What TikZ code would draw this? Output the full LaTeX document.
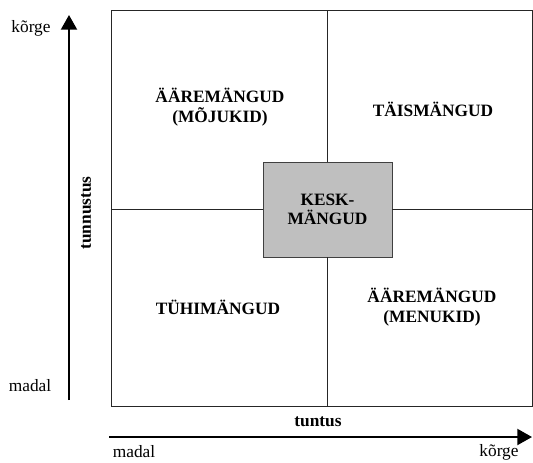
\documentclass[tikz,border=0pt]{standalone}
\usepackage{fontspec}
\setmainfont{Liberation Serif}
\usetikzlibrary{arrows.meta,positioning}

\begin{document}
\begin{tikzpicture}[x=0.75pt,y=-0.75pt,line join=miter,>={Triangle[length=11pt,width=12pt]},
    field/.style={font=\fontsize{13}{14.5}\selectfont\bfseries, align=center},
    axislabel/.style={font=\fontsize{13}{15}\selectfont}]
    \useasboundingbox (0,0) rectangle (533,462);

    % a maatriks: suur raam ja keskmine kast
    \node[draw=black!85, line width=0.6pt, minimum width=315.75pt, minimum height=297pt, inner sep=0pt] (frame) at (321.5,208) {};
    \node[draw=black!75, fill=black!25, line width=0.6pt, minimum width=96.75pt, minimum height=71.25pt, field] (kesk) at (327.5,209.5) {KESK-\\M\"ANGUD};

    % jaotusjooned
    \draw[black!85, line width=0.5pt] (kesk.north) -- (kesk.north |- frame.north);
    \draw[black!85, line width=0.5pt] (kesk.south) -- (kesk.south |- frame.south);
    \draw[black!85, line width=0.5pt] (kesk.west) -- (kesk.west -| frame.west);
    \draw[black!85, line width=0.5pt] (kesk.east) -- (kesk.east -| frame.east);

    % veerandite nimed
    \node[field] (moju) at (220,107) {\"A\"AREM\"ANGUD\\(M\~OJUKID)};
    \node[field] (tais) at (433,109) {T\"AISM\"ANGUD};
    \node[field] (tuhi) at (218,307) {T\"UHIM\"ANGUD};
    \node[field] (menu) at (432,307) {\"A\"AREM\"ANGUD\\(MENUKID)};

    % teljed
    \coordinate (ylow) at (69,400);
    \coordinate (yhigh) at (69,15);
    \coordinate (xlow) at (109,437);
    \coordinate (xhigh) at (532,437);
    \draw[->, line width=1.5pt] (ylow) -- (yhigh);
    \draw[->, line width=1.5pt] (xlow) -- (xhigh);

    \node[field, rotate=90] (tunnustus) at (86,213) {tunnustus};
    \node[field] (tuntus) at (318,422) {tuntus};
    \node[axislabel] (ykorge) at (31,28) {k\~orge};
    \node[axislabel] (ymadal) at (30,386) {madal};
    \node[axislabel] (xmadal) at (134,452) {madal};
    \node[axislabel] (xkorge) at (499,452) {k\~orge};
\end{tikzpicture}
\end{document}
